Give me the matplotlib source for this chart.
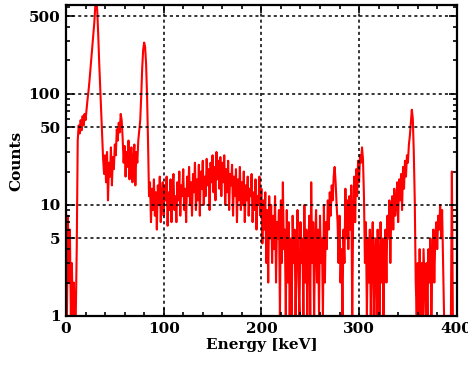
import matplotlib
matplotlib.use("Agg")
import matplotlib.pyplot as plt
from matplotlib.ticker import FixedLocator, MultipleLocator, LogLocator, NullFormatter
import numpy as np

# Energy channels (keV), 1 keV bins
energy = list(range(0, 401))

counts = [
    9, 1, 8, 2, 6, 1, 3, 1, 2, 1,
    1, 4, 38, 52, 44, 58, 47, 63, 52, 66,
    58, 72, 88, 105, 130, 165, 210, 270, 340, 440,
    620, 720, 560, 340, 190, 115, 68, 40, 26, 19,
    28, 16, 30, 11, 24, 18, 33, 15, 27, 21,
    35, 28, 48, 38, 55, 45, 66, 58, 40, 24,
    34, 18, 30, 22, 38, 17, 28, 33, 16, 26,
    35, 15, 30, 24, 38, 47, 58, 95, 170, 250,
    290, 265, 185, 95, 36, 12, 16, 7, 14, 9,
    17, 8, 13, 6, 15, 10, 18, 7, 12, 16,
    8, 15, 11, 18, 6.5, 13, 9, 17, 7, 14,
    19, 9, 12, 7, 16, 11, 20, 8, 15, 12,
    21, 9, 14, 7, 18, 12, 22, 10, 16, 8,
    19, 13, 24, 9, 17, 11, 23, 8, 20, 14,
    25, 10, 18, 12, 26, 15, 21, 9, 24, 16,
    28, 13, 22, 11, 30, 17, 25, 14, 27, 12,
    24, 16, 28, 10, 21, 13, 25, 9, 19, 15,
    23, 8, 18, 12, 21, 7, 17, 11, 22, 9,
    16, 10, 20, 7, 15, 11, 18, 8, 14, 12,
    19, 7, 13, 9, 17, 6, 12, 10, 18, 8,
    14, 4.5, 11, 6, 13, 3, 9, 2, 12, 5,
    10, 3, 8, 4, 12, 2, 7, 5, 9, 1,
    11, 3, 16, 4, 6, 1, 9, 2, 7, 1,
    5, 1, 8, 3, 6, 1, 4, 9, 2, 1,
    7, 3, 5, 1, 10, 2, 6, 1, 4, 8,
    1, 16, 3, 7, 1, 5, 9, 2, 6, 1,
    8, 3, 5, 1, 10, 2, 7, 4, 11, 6,
    13, 8, 15, 11, 18, 22, 16, 10, 7, 3,
    8, 2, 4, 1, 6, 3, 14, 5, 11, 4,
    12, 6, 15, 1, 9, 18, 7, 21, 12, 25,
    16, 28, 24, 33, 26, 12, 3, 7, 1, 5,
    2, 6, 1, 4, 7, 1, 3, 5, 1, 6,
    3, 1, 7, 2, 5, 1, 4, 6, 2, 8,
    5, 11, 3, 9, 12, 6, 14, 8, 10, 16,
    7, 17, 11, 19, 9, 22, 14, 25, 18, 28,
    24, 35, 42, 55, 72, 60, 30, 11, 2, 1,
    3, 1, 4, 1, 3, 1, 4, 2, 1, 3,
    1, 4, 2, 5, 1, 3, 6, 2, 5, 7,
    4, 8, 6, 10, 5, 9, 3, 1, 1, 1,
    1, 1, 1, 1, 1, 20, 1, 1, 1, 1,
    1,
]

x_major = [0, 100, 200, 300, 400]
y_major = [1, 5, 10, 50, 100, 500]
y_labels = ["1", "5", "10", "50", "100", "500"]

fig = plt.figure(figsize=(4.68, 3.67), dpi=100)
ax = fig.add_axes([0.141, 0.139, 0.835, 0.847])

ax.plot(energy, counts, color="#ff0000", lw=1.5, zorder=2)
ax.set_yscale("log")
ax.set_xlim(0, 400)
ax.set_ylim(1, 630)

ax.xaxis.set_major_locator(FixedLocator(x_major))
ax.xaxis.set_minor_locator(MultipleLocator(20))
ax.yaxis.set_major_locator(FixedLocator(y_major))
ax.set_yticklabels(y_labels)
ax.yaxis.set_minor_locator(LogLocator(base=10, subs=np.arange(2, 10)))
ax.yaxis.set_minor_formatter(NullFormatter())

ax.set_axisbelow(False)
ax.grid(True, which="major", color="black", linestyle=(0, (2, 2)), lw=1.1)

ax.tick_params(which="both", direction="in", top=True, right=True, width=1.2)
ax.tick_params(which="major", length=6, labelsize=11, pad=4)
ax.tick_params(which="minor", length=3)
for lab in ax.get_xticklabels() + ax.get_yticklabels():
    lab.set_fontweight("bold")
    lab.set_family("DejaVu Serif")

for sp in ax.spines.values():
    sp.set_linewidth(1.6)

ax.set_xlabel("Energy [keV]", fontsize=11, fontweight="bold", family="DejaVu Serif", labelpad=2)
ax.set_ylabel("Counts", fontsize=11, fontweight="bold", family="DejaVu Serif", labelpad=4)

fig.savefig("out.png", dpi=100)
